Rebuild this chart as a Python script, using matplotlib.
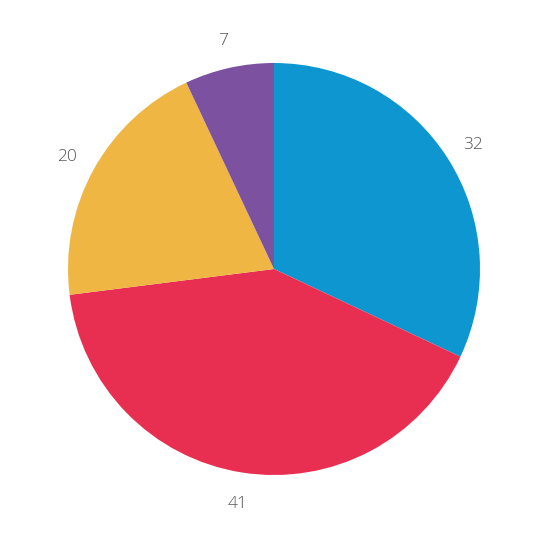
import matplotlib
matplotlib.use("Agg")
import matplotlib.pyplot as plt

values = [32, 41, 20, 7]
labels = ["32", "41", "20", "7"]
colors = ["#0E96D1", "#E82F51", "#EFB644", "#7B51A0"]

fig = plt.figure(figsize=(5.36, 5.36), dpi=100)
ax = fig.add_axes([0, 0, 1, 1])
cx, cy, r = 274 / 536, 1 - 269 / 536, 206 / 536
wedges, texts = ax.pie(values, labels=labels, colors=colors, startangle=90,
                       counterclock=False, radius=r, center=(cx, cy),
                       labeldistance=1.145,
                       textprops=dict(color="#555555", fontsize=12.5,
                                      family="Open Sans", fontweight="light"),
                       wedgeprops=dict(linewidth=0))
for t in texts:
    t.set_ha("center")
    t.set_va("center_baseline")
ax.set_xlim(0, 1)
ax.set_ylim(0, 1)
ax.set_aspect("equal")
ax.axis("off")
fig.savefig("out.png", dpi=100)
